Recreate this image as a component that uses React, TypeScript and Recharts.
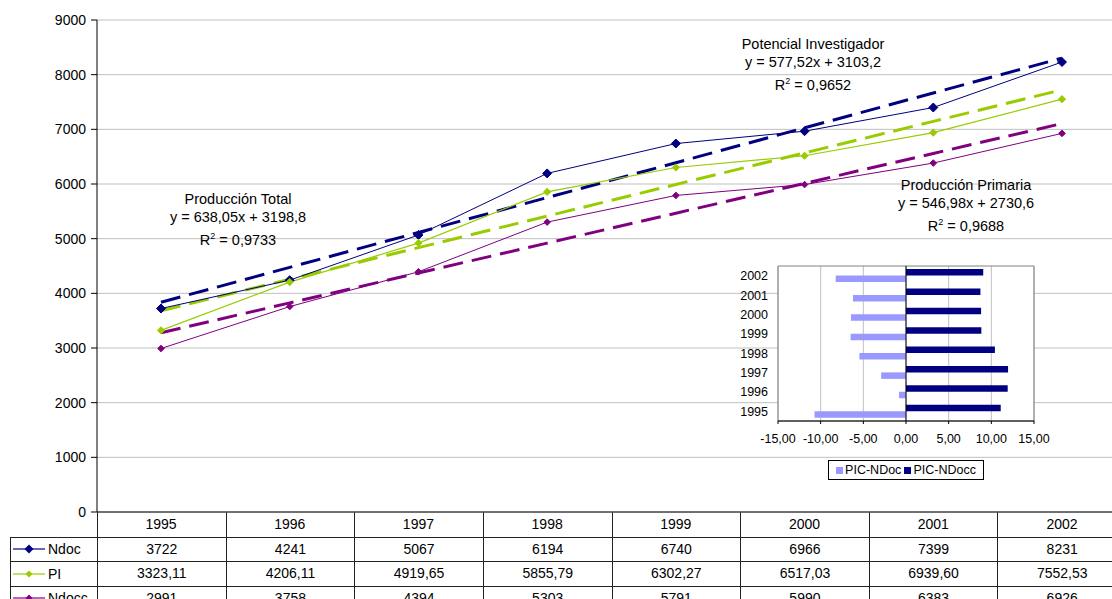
import React from 'react';
import {
  LineChart, Line, XAxis, YAxis, CartesianGrid,
  BarChart, Bar, ReferenceLine, ReferenceArea,
} from 'recharts';

const years = ['1995', '1996', '1997', '1998', '1999', '2000', '2001', '2002'];
const ndoc = [3722, 4241, 5067, 6194, 6740, 6966, 7399, 8231];
const pi = [3323.11, 4206.11, 4919.65, 5855.79, 6302.27, 6517.03, 6939.6, 7552.53];
const ndocc = [2991, 3758, 4394, 5303, 5791, 5990, 6383, 6926];

// dashed linear trend lines, as printed in the figure
const ndocTrend = [3837, 4475, 5113, 5751, 6389, 7027, 7665, 8303];
const piTrend = [3681, 4258, 4836, 5413, 5991, 6568, 7146, 7723];
const ndoccTrend = [3278, 3825, 4372, 4919, 5466, 6012, 6559, 7106];

const yTicks = [0, 1000, 2000, 3000, 4000, 5000, 6000, 7000, 8000, 9000];

// inset: % difference
const picNdoc = [-10.72, -0.82, -2.91, -5.46, -6.49, -6.45, -6.21, -8.24];
const picNdocc = [11.1, 11.92, 11.96, 10.42, 8.83, 8.8, 8.72, 9.05];
const insetTicks = [-15, -10, -5, 0, 5, 10, 15];

const NAVY = '#000080';
const GREEN = '#99CC00';
const PURPLE = '#800080';
const LILAC = '#9999FF';
const FONT = '"Liberation Sans", Arial, sans-serif';

const mainData = years.map((year, i) => ({
  year,
  ndoc: ndoc[i],
  pi: pi[i],
  ndocc: ndocc[i],
  ndocTrend: ndocTrend[i],
  piTrend: piTrend[i],
  ndoccTrend: ndoccTrend[i],
}));

const insetData = years.map((year, i) => ({ year, picNdoc: picNdoc[i], picNdocc: picNdocc[i] }));

const tableRows = [
  { name: 'Ndoc', color: NAVY, r: 4.5, values: ndoc.map(v => String(v)) },
  { name: 'PI', color: GREEN, r: 3.6, values: pi.map(v => v.toFixed(2).replace('.', ',')) },
  { name: 'Ndocc', color: PURPLE, r: 3.4, values: ndocc.map(v => String(v)) },
];

const diamond = (r: number, color: string) => (props: any) => {
  const { cx, cy, index } = props;
  return (
    <polygon
      key={`d-${index}`}
      points={`${cx},${cy - r} ${cx + r},${cy} ${cx},${cy + r} ${cx - r},${cy}`}
      fill={color}
      stroke={color}
    />
  );
};

const fmt = (v: number) => v.toFixed(2).replace('.', ',');

// table geometry
const PLOT_LEFT = 97;
const COL_W = 128.625;
const ROW_TOP = 512;
const ROW_H = 24.5;
const LINE = '1px solid #222';

function Annotation({ cx, cy, lines }: { cx: number, cy: number, lines: React.ReactNode[] }) {
  return (
    <div style={{ position: 'absolute', left: cx - 120, top: cy - 9.25, width: 240, textAlign: 'center', fontSize: 14.5, lineHeight: '18.5px', color: '#000' }}>
      {lines.map((l, i) => <div key={i}>{l}</div>)}
    </div>
  );
}

const R2 = (v: string) => <span>R<sup style={{ fontSize: 9, verticalAlign: 6 }}>2</sup> = {v}</span>;

function DataTable() {
  const cells: React.ReactNode[] = [];
  // header row (year labels come from the x axis ticks)
  years.forEach((y, c) => {
    cells.push(
      <div key={`h-${c}`} style={{ position: 'absolute', boxSizing: 'border-box', left: PLOT_LEFT + c * COL_W, top: ROW_TOP, width: COL_W + 1, height: ROW_H + 1, borderLeft: LINE, borderRight: LINE, borderBottom: LINE }} />
    );
  });
  tableRows.forEach((row, r) => {
    const top = ROW_TOP + (r + 1) * ROW_H;
    cells.push(
      <div key={`l-${r}`} style={{ position: 'absolute', boxSizing: 'border-box', left: 10, top, width: PLOT_LEFT - 10 + 1, height: ROW_H + 1, border: LINE, display: 'flex', alignItems: 'center' }}>
        <svg width={32} height={10} style={{ marginLeft: 2 }}>
          <line x1={0} y1={5} x2={32} y2={5} stroke={row.color} strokeWidth={1.2} />
          <polygon points={`16,${5 - row.r} ${16 + row.r},5 16,${5 + row.r} ${16 - row.r},5`} fill={row.color} />
        </svg>
        <span style={{ fontSize: 14, marginLeft: 3 }}>{row.name}</span>
      </div>
    );
    row.values.forEach((v, c) => {
      cells.push(
        <div key={`c-${r}-${c}`} style={{ position: 'absolute', boxSizing: 'border-box', left: PLOT_LEFT + c * COL_W, top, width: COL_W + 1, height: ROW_H + 1, borderLeft: LINE, borderRight: LINE, borderBottom: LINE, display: 'flex', alignItems: 'center', justifyContent: 'center', fontSize: 14 }}>
          {v}
        </div>
      );
    });
  });
  return <>{cells}</>;
}

export default function App() {
  return (
    <div style={{ position: 'absolute', left: 0, top: 0, width: 1112, height: 599, overflow: 'hidden', background: '#fff', fontFamily: FONT, color: '#000' }}>
      <DataTable />
      <div style={{ position: 'absolute', left: 0, top: 0 }}>
        <LineChart width={1130} height={599} data={mainData} margin={{ top: 20, right: 4, left: 0, bottom: 57 }}>
          <CartesianGrid vertical={false} stroke="#c0c0c0" />
          <XAxis
            dataKey="year"
            padding={{ left: 64, right: 64 }}
            interval={0}
            height={30}
            tickLine={false}
            tickSize={0}
            tickMargin={7}
            axisLine={{ stroke: '#000' }}
            tick={{ fill: '#000', fontSize: 14, fontFamily: FONT }}
          />
          <YAxis
            domain={[0, 9000]}
            ticks={yTicks}
            interval={0}
            width={97}
            tickSize={6}
            tickMargin={5}
            axisLine={{ stroke: '#000' }}
            tickLine={{ stroke: '#000' }}
            tick={{ fill: '#000', fontSize: 14, fontFamily: FONT }}
          />
          <Line dataKey="ndocTrend" stroke={NAVY} strokeWidth={3} strokeDasharray="20 9" dot={false} activeDot={false} isAnimationActive={false} />
          <Line dataKey="piTrend" stroke={GREEN} strokeWidth={3} strokeDasharray="20 9" dot={false} activeDot={false} isAnimationActive={false} />
          <Line dataKey="ndoccTrend" stroke={PURPLE} strokeWidth={3} strokeDasharray="20 9" dot={false} activeDot={false} isAnimationActive={false} />
          <Line dataKey="ndoc" stroke={NAVY} strokeWidth={1} dot={diamond(4.5, NAVY)} activeDot={false} isAnimationActive={false} />
          <Line dataKey="pi" stroke={GREEN} strokeWidth={1.2} dot={diamond(3.6, GREEN)} activeDot={false} isAnimationActive={false} />
          <Line dataKey="ndocc" stroke={PURPLE} strokeWidth={1} dot={diamond(3.3, PURPLE)} activeDot={false} isAnimationActive={false} />
        </LineChart>
      </div>

      <Annotation cx={238} cy={199} lines={['Producción Total', 'y = 638,05x + 3198,8', R2('0,9733')]} />
      <Annotation cx={813} cy={44} lines={['Potencial Investigador', 'y = 577,52x + 3103,2', R2('0,9652')]} />
      <Annotation cx={966} cy={185} lines={['Producción Primaria', 'y = 546,98x + 2730,6', R2('0,9688')]} />

      <div style={{ position: 'absolute', left: 730, top: 262 }}>
        <BarChart width={330} height={200} data={insetData} layout="vertical" margin={{ top: 4, right: 26, left: 0, bottom: 21 }} barGap={0} barSize={6.5}>
          <CartesianGrid horizontal={false} stroke="#c0c0c0" fill="#fff" />
          <XAxis
            type="number"
            domain={[-15, 15]}
            ticks={insetTicks}
            interval={0}
            tickFormatter={fmt}
            height={20}
            tickSize={3}
            tickMargin={10}
            axisLine={{ stroke: '#000' }}
            tickLine={{ stroke: '#000' }}
            tick={{ fill: '#000', fontSize: 12.5, fontFamily: FONT }}
          />
          <YAxis
            type="category"
            dataKey="year"
            reversed
            interval={0}
            width={48}
            axisLine={false}
            tickLine={false}
            tickSize={0}
            tickMargin={10}
            tick={{ fill: '#000', fontSize: 12.5, fontFamily: FONT }}
          />
          <ReferenceArea x1={-15} x2={15} fill="none" stroke="#808080" />
          <Bar dataKey="picNdocc" fill={NAVY} isAnimationActive={false} />
          <Bar dataKey="picNdoc" fill={LILAC} isAnimationActive={false} />
          <ReferenceLine x={0} stroke="#000" />
        </BarChart>
      </div>

      <div style={{ position: 'absolute', left: 828, top: 460, width: 156, height: 20, boxSizing: 'border-box', border: '1px solid #000', background: '#fff', display: 'flex', alignItems: 'center', justifyContent: 'center', fontSize: 12.5 }}>
        <span style={{ width: 7, height: 7, background: LILAC, display: 'inline-block', marginRight: 2 }} />
        <span style={{ marginRight: 3 }}>PIC-NDoc</span>
        <span style={{ width: 7, height: 7, background: NAVY, display: 'inline-block', marginRight: 2 }} />
        <span>PIC-NDocc</span>
      </div>
    </div>
  );
}
